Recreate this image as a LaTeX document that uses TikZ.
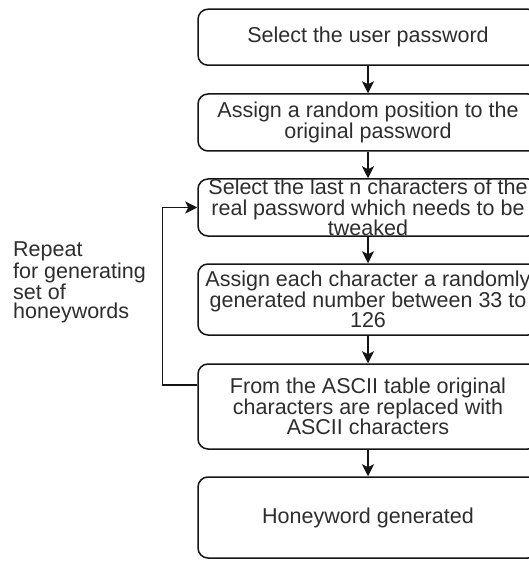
\documentclass[tikz,border=0pt]{standalone}
\usepackage{fontspec}
\setmainfont{Liberation Sans}
\usepackage{xcolor}
\definecolor{hwline}{RGB}{20,20,20}
\definecolor{hwtext}{RGB}{45,45,45}
\usetikzlibrary{arrows.meta}

\begin{document}
\begin{tikzpicture}[x=1pt,y=-1pt,
  stepbox/.style={draw=hwline,line width=1.5pt,rounded corners=10pt,minimum width=340pt,inner sep=0pt,align=center,text=hwtext,font=\fontsize{21.5}{20.5}\selectfont},
  flow/.style={draw=hwline,line width=1.5pt,-{Stealth[width=12pt,length=12pt,inset=3pt]}}]
  \useasboundingbox (0,0) rectangle (528,561);
  \node[stepbox,minimum height=56pt] (s1) at (368,37.2) {Select the user password};
  \node[stepbox,minimum height=57pt] (s2) at (368,122.5) {Assign a random position to the\\original password};
  \node[stepbox,minimum height=57pt] (s3) at (368,207.5) {Select the last n characters of the\\real password which needs to be\\tweaked};
  \node[stepbox,minimum height=71pt] (s4) at (368,299.5) {Assign each character a randomly\\generated number between 33 to\\126};
  \node[stepbox,minimum height=85pt] (s5) at (368,406.5) {From the ASCII table original\\characters are replaced with\\ASCII characters};
  \node[stepbox,minimum height=81pt] (s6) at (368,517.5) {Honeyword generated};
  \foreach \a/\b in {1/2,2/3,3/4,4/5,5/6}{\draw[flow] (s\a)--(s\b);}
  \draw[flow] ([yshift=21.5pt]s5.west) -- ++(-35,0) |- (s3.west);
  \node[anchor=north west,inner sep=0pt,align=left,text=hwtext,font=\fontsize{21.5}{19.5}\selectfont] (rep) at (13,242) {Repeat\\for generating\\set of\\honeywords};
\end{tikzpicture}
\end{document}
